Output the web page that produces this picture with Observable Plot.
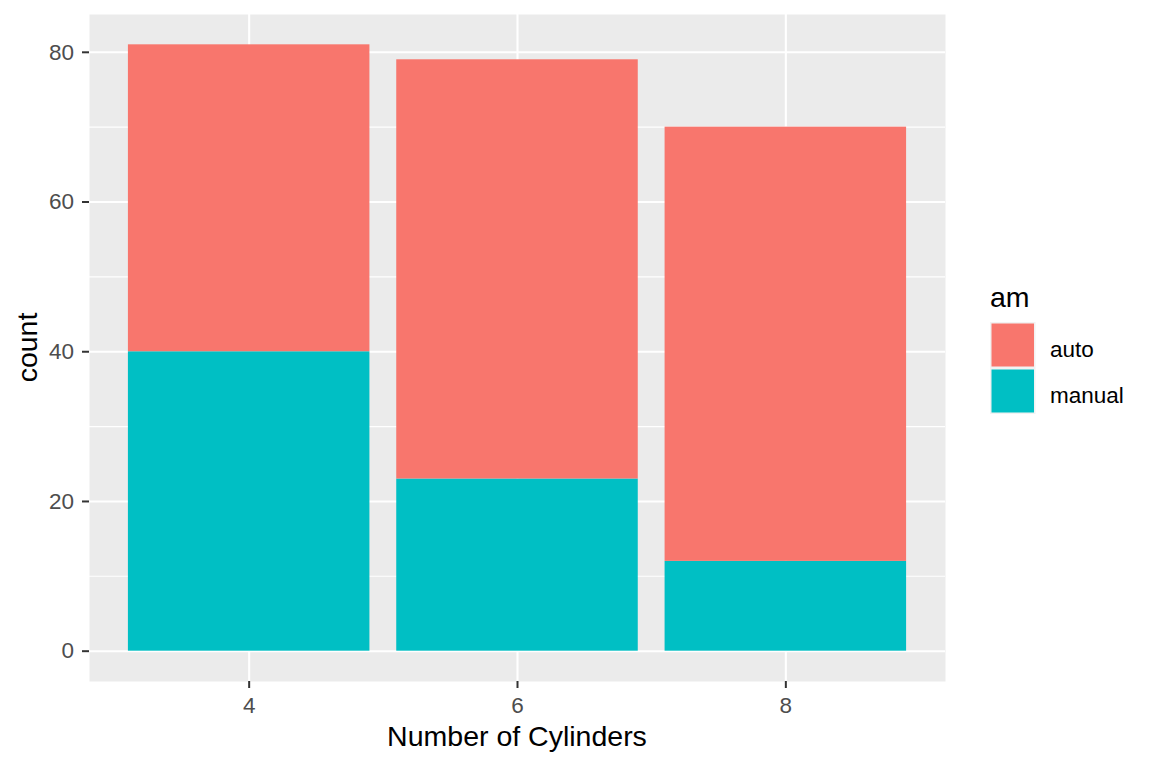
<!DOCTYPE html>
<html>
<head>
<meta charset="utf-8">
<script src="https://cdn.jsdelivr.net/npm/d3@7"></script>
<script src="https://cdn.jsdelivr.net/npm/@observablehq/plot@0.6"></script>
<style>
  html, body { margin: 0; padding: 0; background: #fff; }
  #chart svg { display: block; font-family: "Liberation Sans", Arial, sans-serif; }
</style>
</head>
<body>
<div id="chart"></div>
<script>
// ---- data ----
const cylinders = [4, 6, 8];
const manualCounts = [40, 23, 12];
const autoCounts = [41, 56, 58];
const amLevels = ["auto", "manual"];
const amColors = ["#F8766D", "#00BFC4"];
const yTicks = [0, 20, 40, 60, 80];
const yMinor = [10, 30, 50, 70];
const xTicks = [4, 6, 8];
const xTitle = "Number of Cylinders";
const yTitle = "count";
const legendTitle = "am";

// ---- build stacked table (manual at bottom, auto on top) ----
const barHalf = 0.9;
const rows = [];
cylinders.forEach((c, i) => {
  rows.push({cyl: c, am: "manual", y1: 0, y2: manualCounts[i]});
  rows.push({cyl: c, am: "auto", y1: manualCounts[i], y2: manualCounts[i] + autoCounts[i]});
});
const xLo = d3.min(cylinders) - barHalf, xHi = d3.max(cylinders) + barHalf;
const xPad = (xHi - xLo) * 0.05;
const yMax = d3.max(rows, d => d.y2);
const yPad = yMax * 0.05;

const ML = 89, MR = 207, MT = 14, MB = 87, W = 1152, H = 768;

const chart = Plot.plot({
  width: W,
  height: H,
  marginLeft: ML,
  marginRight: MR,
  marginTop: MT,
  marginBottom: MB,
  style: {fontFamily: '"Liberation Sans", Arial, sans-serif', background: "#fff"},
  x: {type: "linear", domain: [xLo - xPad, xHi + xPad]},
  y: {domain: [-yPad, yMax + yPad]},
  color: {domain: amLevels, range: amColors},
  marks: [
    Plot.frame({fill: "#EBEBEB", stroke: null}),
    Plot.ruleY(yMinor, {stroke: "#fff", strokeWidth: 1.1}),
    Plot.ruleY(yTicks, {stroke: "#fff", strokeWidth: 2.1}),
    Plot.ruleX(xTicks, {stroke: "#fff", strokeWidth: 2.1}),
    Plot.rect(rows, {
      x1: d => d.cyl - barHalf,
      x2: d => d.cyl + barHalf,
      y1: "y1",
      y2: "y2",
      fill: "am"
    }),
    Plot.axisY({ticks: yTicks, tickFormat: d3.format("d"), tickSize: 7, tickPadding: 8.5, fontSize: 22.5, stroke: "#333333", strokeWidth: 2, fill: "#4D4D4D", label: null}),
    Plot.axisX({ticks: xTicks, tickFormat: d3.format("d"), tickSize: 7, tickPadding: 8.5, fontSize: 22.5, stroke: "#333333", strokeWidth: 2, fill: "#4D4D4D", label: null})
  ]
});

const svg = d3.select(chart);
const fontFam = '"Liberation Sans", Arial, sans-serif';

// axis titles
svg.append("text")
  .attr("x", ML + (W - ML - MR) / 2)
  .attr("y", 746)
  .attr("text-anchor", "middle")
  .attr("font-size", 28.5)
  .attr("font-family", fontFam)
  .attr("fill", "#000")
  .text(xTitle);

svg.append("text")
  .attr("transform", `translate(36.5,${MT + (H - MT - MB) / 2}) rotate(-90)`)
  .attr("text-anchor", "middle")
  .attr("font-size", 28.5)
  .attr("font-family", fontFam)
  .attr("fill", "#000")
  .text(yTitle);

// legend
const lg = svg.append("g").attr("text-anchor", "start");
lg.append("text")
  .attr("x", 990)
  .attr("y", 307)
  .attr("text-anchor", "start")
  .attr("font-size", 28.5)
  .attr("font-family", fontFam)
  .attr("fill", "#000")
  .text(legendTitle);
const keySize = 46, keyTop = 322, keyLeft = 990;
amLevels.forEach((lvl, i) => {
  const y0 = keyTop + i * keySize;
  lg.append("rect")
    .attr("x", keyLeft).attr("y", y0)
    .attr("width", keySize - 0.5).attr("height", keySize)
    .attr("fill", "#F2F2F2");
  lg.append("rect")
    .attr("x", keyLeft + 1.5).attr("y", y0 + 1.5)
    .attr("width", keySize - 3.5).attr("height", keySize - 3)
    .attr("fill", amColors[i]);
  lg.append("text")
    .attr("x", 1050)
    .attr("y", y0 + 35)
    .attr("text-anchor", "start")
    .attr("font-size", 22.5)
    .attr("font-family", fontFam)
    .attr("fill", "#000")
    .text(lvl);
});

document.getElementById("chart").appendChild(chart);
</script>
</body>
</html>
